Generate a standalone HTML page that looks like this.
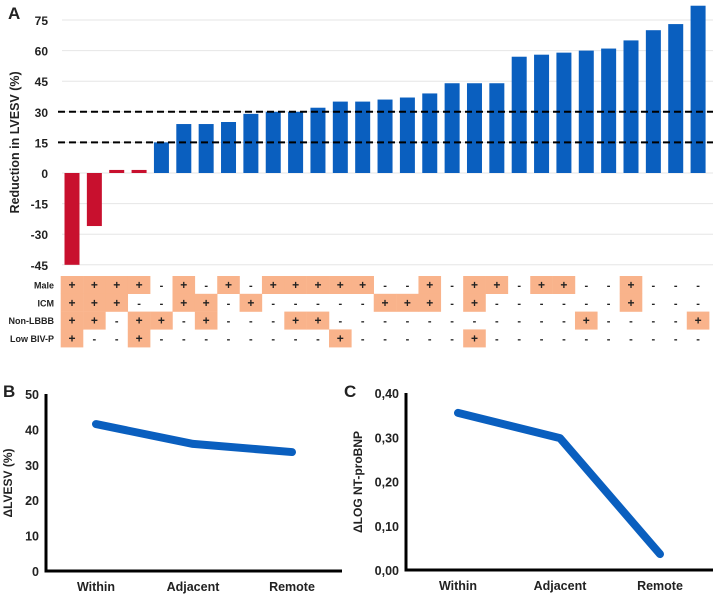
<!DOCTYPE html>
<html><head><meta charset="utf-8"><style>
body{margin:0;background:#fff;font-family:"Liberation Sans",Arial,sans-serif}
svg text{font-family:"Liberation Sans",Arial,sans-serif;font-weight:bold;fill:#222}
</style></head><body>
<svg id="fig" width="713" height="594" viewBox="0 0 713 594" xmlns="http://www.w3.org/2000/svg">
<text x="8" y="19" font-size="17">A</text>
<text x="3" y="397" font-size="17">B</text>
<text x="344" y="397" font-size="17">C</text>
<g id="gA"></g><g id="gT"></g><g id="gB"></g><g id="gC"></g>
</svg>
<script>
const NS="http://www.w3.org/2000/svg";
function mk(p,t,a){const e=document.createElementNS(NS,t);for(const k in a)e.setAttribute(k,a[k]);p.appendChild(e);return e;}
// Panel A data
const aValues=[-45,-26,1.5,1.5,15,24,24,25,29,30,30,32,35,35,36,37,39,44,44,44,57,58,59,60,61,65,70,73,82];
const aTicks=[75,60,45,30,15,0,-15,-30,-45];
const aThresholds=[30,15];
const rowLabels=["Male","ICM","Non-LBBB","Low BIV-P"];
const rowMale="++++-+-+-++++" + "+--+-++-++--+---";
const rowICM ="+++--++-+----" + "-+++-+------+---";
const rowNonLBBB="++-++-+---++-" + "----------+----+";
const rowLowBIVP="+--+--------+" + "-----+----------";
const rows=[rowMale,rowICM,rowNonLBBB,rowLowBIVP];

const gA=document.getElementById('gA');
const ay=v=>173-v*2.04;
const ax=i=>72+i*22.36;
aTicks.forEach(t=>{
 const l=mk(gA,'line',{x1:62,x2:713,y1:ay(t),y2:ay(t),stroke:'#e6e6e6','stroke-width':1});
 
 
 const tx=mk(gA,'text',{x:48,y:ay(t)+5,'font-size':12,'text-anchor':'end'});tx.textContent=t;
 
 
});
const yt=mk(gA,'text',{x:0,y:0,'font-size':12.5,'text-anchor':'middle',transform:`translate(19,${ay(15)}) rotate(-90)`});
yt.textContent='Reduction in LVESV (%)';


aValues.forEach((v,i)=>{
 const neg=i<4;
 const y0=ay(Math.max(v,0)),y1=ay(Math.min(v,0));
 const r=mk(gA,'rect',{x:ax(i)-7.5,y:y0,width:15,height:Math.max(y1-y0,1),fill:neg?'#c8102e':'#0a5fbf'});
 
 
});
aThresholds.forEach(t=>{
 const l=mk(gA,'line',{x1:58,x2:713,y1:ay(t),y2:ay(t),stroke:'#000','stroke-width':2,'stroke-dasharray':'7,4'});
 
 
});
// table
const gT=document.getElementById('gT');
rows.forEach((row,r)=>{
 const cy=285+r*17.8;
 const lb=mk(gT,'text',{x:54,y:cy+3.5,'font-size':9,'text-anchor':'end'});lb.textContent=rowLabels[r];
 
 
 for(let i=0;i<row.length;i++){
  const c=row[i];
  if(c==='+'){
   const bg=mk(gT,'rect',{x:ax(i)-11.3,y:cy-9,width:22.6,height:18,fill:'#f9b38b'});
   
   
  }
 }
 for(let i=0;i<row.length;i++){
  const t=mk(gT,'text',{x:ax(i),y:cy+4,'font-size':c=row[i]==='+'?12:11,'text-anchor':'middle',fill:'#000'});
  t.textContent=row[i]==='+'?'+':'-';
  
  
 }
});
var c;
// Panel B/C
const cats=["Within","Adjacent","Remote"];
const bValues=[41.5,35.9,33.6];
const bTicks=[0,10,20,30,40,50];
const cValues=[0.355,0.298,0.036];
const cTicks=[0,0.1,0.2,0.3,0.4];
function line(g,o){
 const y=v=>o.y0-(v/o.max)*177;
 o.ticks.forEach(t=>{const tx=mk(g,'text',{x:o.axX-7,y:y(t)+5,'font-size':12.5,'text-anchor':'end'});tx.textContent=o.fmt(t);
  
  });
 const ax1=mk(g,'path',{d:`M${o.axX},${o.y0-177} V${o.y0} H${o.xEnd}`,stroke:'#000','stroke-width':3,fill:'none'});
 
 
 const pts=o.vals.map((v,i)=>[o.xs[i],y(v)]);
 const pl=mk(g,'polyline',{points:pts.map(p=>p.join(',')).join(' '),stroke:'#0a5fbf','stroke-width':8,fill:'none','stroke-linecap':'round','stroke-linejoin':'round'});
 
 
 cats.forEach((cName,i)=>{const t=mk(g,'text',{x:o.xs[i],y:o.y0+20,'font-size':12.5,'text-anchor':'middle'});t.textContent=cName;
  
  });
 const tt=mk(g,'text',{x:0,y:0,'font-size':12,'text-anchor':'middle',transform:`translate(${o.titleX},${o.y0-88}) rotate(-90)`,'font-weight':'normal'});
 tt.textContent=o.title;tt.setAttribute('font-weight','normal');
 
 
}
line(document.getElementById('gB'),{vals:bValues,ticks:bTicks,max:50,y0:571,axX:46,xEnd:342,xs:[96,193,292],fmt:t=>t,title:'ΔLVESV (%)',titleX:12});
line(document.getElementById('gC'),{vals:cValues,ticks:cTicks,max:0.4,y0:570,axX:406,xEnd:713,xs:[458,560,660],fmt:t=>t.toFixed(2).replace('.',','),title:'ΔLOG NT-proBNP',titleX:362});
</script>
</body></html>
